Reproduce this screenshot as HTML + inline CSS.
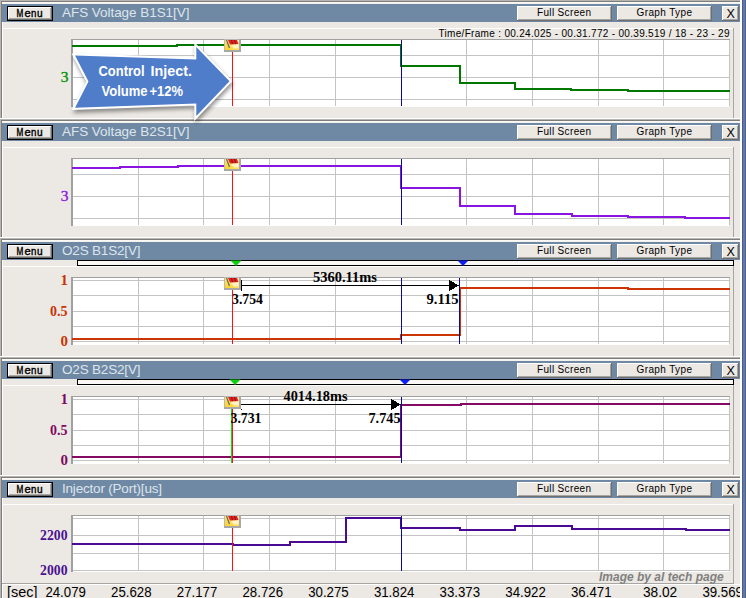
<!DOCTYPE html>
<html><head><meta charset="utf-8"><style>
html,body{margin:0;padding:0;background:#ece9e4;}
svg{display:block;}
</style></head><body>
<svg width="746" height="598" viewBox="0 0 746 598" shape-rendering="crispEdges">
<defs>
<linearGradient id="fg" x1="0" y1="1" x2="1" y2="0"><stop offset="0" stop-color="#ffd21e"/><stop offset="1" stop-color="#fff0b0"/></linearGradient>
<filter id="blur" x="-10%" y="-10%" width="120%" height="120%"><feGaussianBlur stdDeviation="2"/></filter>
</defs>
<rect x="0" y="0" width="746" height="598" fill="#ece9e4"/>
<rect x="0" y="0" width="740" height="1" fill="#b6b5b1"/>
<rect x="1" y="1" width="739" height="1" fill="#7e7d79"/>
<rect x="2" y="2" width="738" height="1" fill="#fbf9f5"/>
<rect x="2" y="3" width="738" height="1" fill="#f4f2ee"/>
<rect x="2" y="4" width="738" height="18" fill="#6f89a5"/>
<rect x="7" y="6" width="46" height="15" fill="#000000"/>
<rect x="8" y="7" width="44" height="13" fill="#6e6e6e"/>
<rect x="8" y="7" width="43" height="12" fill="#ffffff"/>
<rect x="9" y="8" width="42" height="11" fill="#a8a6a2"/>
<rect x="9" y="8" width="41" height="10" fill="#ece9e4"/>
<text x="17" y="16.5" font-family="Liberation Sans" font-size="10" font-weight="normal" fill="#000000" text-anchor="start"></text>
<text x="16.4" y="16.6" font-family="Liberation Sans" font-size="10" font-weight="normal" fill="#000000" text-anchor="start" stroke="#000" stroke-width="0.4" textLength="6.8" lengthAdjust="spacingAndGlyphs">M</text>
<text x="24.4" y="16.6" font-family="Liberation Sans" font-size="10" font-weight="normal" fill="#000000" text-anchor="start" stroke="#000" stroke-width="0.4" textLength="6.2" lengthAdjust="spacingAndGlyphs">e</text>
<text x="31.0" y="16.6" font-family="Liberation Sans" font-size="10" font-weight="normal" fill="#000000" text-anchor="start" stroke="#000" stroke-width="0.4" textLength="5.4" lengthAdjust="spacingAndGlyphs">n</text>
<text x="36.9" y="16.6" font-family="Liberation Sans" font-size="10" font-weight="normal" fill="#000000" text-anchor="start" stroke="#000" stroke-width="0.4" textLength="5.6" lengthAdjust="spacingAndGlyphs">u</text>
<text x="62" y="17" font-family="Liberation Sans" font-size="13.5" font-weight="normal" fill="#dde5ec" text-anchor="start" textLength="127.5" lengthAdjust="spacing">AFS Voltage B1S1[V]</text>
<rect x="517" y="6" width="95" height="15" fill="#6e6e6e"/>
<rect x="517" y="6" width="94" height="14" fill="#ffffff"/>
<rect x="518" y="7" width="93" height="13" fill="#a8a6a2"/>
<rect x="518" y="7" width="92" height="12" fill="#ece9e4"/>
<text x="537" y="15.7" font-family="Liberation Sans" font-size="10" font-weight="normal" fill="#000000" text-anchor="start" textLength="54" lengthAdjust="spacing">Full Screen</text>
<rect x="617" y="6" width="95" height="15" fill="#6e6e6e"/>
<rect x="617" y="6" width="94" height="14" fill="#ffffff"/>
<rect x="618" y="7" width="93" height="13" fill="#a8a6a2"/>
<rect x="618" y="7" width="92" height="12" fill="#ece9e4"/>
<text x="636.5" y="15.7" font-family="Liberation Sans" font-size="10" font-weight="normal" fill="#000000" text-anchor="start" textLength="55.5" lengthAdjust="spacing">Graph Type</text>
<rect x="722" y="6" width="17" height="15" fill="#6e6e6e"/>
<rect x="722" y="6" width="16" height="14" fill="#ffffff"/>
<rect x="723" y="7" width="15" height="13" fill="#a8a6a2"/>
<rect x="723" y="7" width="14" height="12" fill="#ece9e4"/>
<text x="726.5" y="18" font-family="Liberation Sans" font-size="12.5" font-weight="normal" fill="#000000" text-anchor="start">X</text>
<rect x="2" y="28" width="731" height="1" fill="#ffffff"/>
<rect x="733" y="28" width="1" height="90" fill="#a8a6a2"/>
<rect x="0" y="118" width="741" height="1" fill="#ffffff"/>
<rect x="0" y="119" width="740" height="1" fill="#b6b5b1"/>
<rect x="1" y="120" width="739" height="1" fill="#7e7d79"/>
<rect x="2" y="121" width="738" height="1" fill="#fbf9f5"/>
<rect x="2" y="122" width="738" height="1" fill="#f4f2ee"/>
<rect x="2" y="123" width="738" height="18" fill="#6f89a5"/>
<rect x="7" y="125" width="46" height="15" fill="#000000"/>
<rect x="8" y="126" width="44" height="13" fill="#6e6e6e"/>
<rect x="8" y="126" width="43" height="12" fill="#ffffff"/>
<rect x="9" y="127" width="42" height="11" fill="#a8a6a2"/>
<rect x="9" y="127" width="41" height="10" fill="#ece9e4"/>
<text x="17" y="135.5" font-family="Liberation Sans" font-size="10" font-weight="normal" fill="#000000" text-anchor="start"></text>
<text x="16.4" y="135.6" font-family="Liberation Sans" font-size="10" font-weight="normal" fill="#000000" text-anchor="start" stroke="#000" stroke-width="0.4" textLength="6.8" lengthAdjust="spacingAndGlyphs">M</text>
<text x="24.4" y="135.6" font-family="Liberation Sans" font-size="10" font-weight="normal" fill="#000000" text-anchor="start" stroke="#000" stroke-width="0.4" textLength="6.2" lengthAdjust="spacingAndGlyphs">e</text>
<text x="31.0" y="135.6" font-family="Liberation Sans" font-size="10" font-weight="normal" fill="#000000" text-anchor="start" stroke="#000" stroke-width="0.4" textLength="5.4" lengthAdjust="spacingAndGlyphs">n</text>
<text x="36.9" y="135.6" font-family="Liberation Sans" font-size="10" font-weight="normal" fill="#000000" text-anchor="start" stroke="#000" stroke-width="0.4" textLength="5.6" lengthAdjust="spacingAndGlyphs">u</text>
<text x="62" y="136" font-family="Liberation Sans" font-size="13.5" font-weight="normal" fill="#dde5ec" text-anchor="start" textLength="127.5" lengthAdjust="spacing">AFS Voltage B2S1[V]</text>
<rect x="517" y="125" width="95" height="15" fill="#6e6e6e"/>
<rect x="517" y="125" width="94" height="14" fill="#ffffff"/>
<rect x="518" y="126" width="93" height="13" fill="#a8a6a2"/>
<rect x="518" y="126" width="92" height="12" fill="#ece9e4"/>
<text x="537" y="134.7" font-family="Liberation Sans" font-size="10" font-weight="normal" fill="#000000" text-anchor="start" textLength="54" lengthAdjust="spacing">Full Screen</text>
<rect x="617" y="125" width="95" height="15" fill="#6e6e6e"/>
<rect x="617" y="125" width="94" height="14" fill="#ffffff"/>
<rect x="618" y="126" width="93" height="13" fill="#a8a6a2"/>
<rect x="618" y="126" width="92" height="12" fill="#ece9e4"/>
<text x="636.5" y="134.7" font-family="Liberation Sans" font-size="10" font-weight="normal" fill="#000000" text-anchor="start" textLength="55.5" lengthAdjust="spacing">Graph Type</text>
<rect x="722" y="125" width="17" height="15" fill="#6e6e6e"/>
<rect x="722" y="125" width="16" height="14" fill="#ffffff"/>
<rect x="723" y="126" width="15" height="13" fill="#a8a6a2"/>
<rect x="723" y="126" width="14" height="12" fill="#ece9e4"/>
<text x="726.5" y="137" font-family="Liberation Sans" font-size="12.5" font-weight="normal" fill="#000000" text-anchor="start">X</text>
<rect x="2" y="147" width="731" height="1" fill="#ffffff"/>
<rect x="733" y="147" width="1" height="90" fill="#a8a6a2"/>
<rect x="0" y="237" width="741" height="1" fill="#ffffff"/>
<rect x="0" y="238" width="740" height="1" fill="#b6b5b1"/>
<rect x="1" y="239" width="739" height="1" fill="#7e7d79"/>
<rect x="2" y="240" width="738" height="1" fill="#fbf9f5"/>
<rect x="2" y="241" width="738" height="1" fill="#f4f2ee"/>
<rect x="2" y="242" width="738" height="18" fill="#6f89a5"/>
<rect x="7" y="244" width="46" height="15" fill="#000000"/>
<rect x="8" y="245" width="44" height="13" fill="#6e6e6e"/>
<rect x="8" y="245" width="43" height="12" fill="#ffffff"/>
<rect x="9" y="246" width="42" height="11" fill="#a8a6a2"/>
<rect x="9" y="246" width="41" height="10" fill="#ece9e4"/>
<text x="17" y="254.5" font-family="Liberation Sans" font-size="10" font-weight="normal" fill="#000000" text-anchor="start"></text>
<text x="16.4" y="254.6" font-family="Liberation Sans" font-size="10" font-weight="normal" fill="#000000" text-anchor="start" stroke="#000" stroke-width="0.4" textLength="6.8" lengthAdjust="spacingAndGlyphs">M</text>
<text x="24.4" y="254.6" font-family="Liberation Sans" font-size="10" font-weight="normal" fill="#000000" text-anchor="start" stroke="#000" stroke-width="0.4" textLength="6.2" lengthAdjust="spacingAndGlyphs">e</text>
<text x="31.0" y="254.6" font-family="Liberation Sans" font-size="10" font-weight="normal" fill="#000000" text-anchor="start" stroke="#000" stroke-width="0.4" textLength="5.4" lengthAdjust="spacingAndGlyphs">n</text>
<text x="36.9" y="254.6" font-family="Liberation Sans" font-size="10" font-weight="normal" fill="#000000" text-anchor="start" stroke="#000" stroke-width="0.4" textLength="5.6" lengthAdjust="spacingAndGlyphs">u</text>
<text x="62" y="255" font-family="Liberation Sans" font-size="13.5" font-weight="normal" fill="#dde5ec" text-anchor="start" textLength="78.5" lengthAdjust="spacing">O2S B1S2[V]</text>
<rect x="517" y="244" width="95" height="15" fill="#6e6e6e"/>
<rect x="517" y="244" width="94" height="14" fill="#ffffff"/>
<rect x="518" y="245" width="93" height="13" fill="#a8a6a2"/>
<rect x="518" y="245" width="92" height="12" fill="#ece9e4"/>
<text x="537" y="253.7" font-family="Liberation Sans" font-size="10" font-weight="normal" fill="#000000" text-anchor="start" textLength="54" lengthAdjust="spacing">Full Screen</text>
<rect x="617" y="244" width="95" height="15" fill="#6e6e6e"/>
<rect x="617" y="244" width="94" height="14" fill="#ffffff"/>
<rect x="618" y="245" width="93" height="13" fill="#a8a6a2"/>
<rect x="618" y="245" width="92" height="12" fill="#ece9e4"/>
<text x="636.5" y="253.7" font-family="Liberation Sans" font-size="10" font-weight="normal" fill="#000000" text-anchor="start" textLength="55.5" lengthAdjust="spacing">Graph Type</text>
<rect x="722" y="244" width="17" height="15" fill="#6e6e6e"/>
<rect x="722" y="244" width="16" height="14" fill="#ffffff"/>
<rect x="723" y="245" width="15" height="13" fill="#a8a6a2"/>
<rect x="723" y="245" width="14" height="12" fill="#ece9e4"/>
<text x="726.5" y="256" font-family="Liberation Sans" font-size="12.5" font-weight="normal" fill="#000000" text-anchor="start">X</text>
<rect x="2" y="266" width="731" height="1" fill="#ffffff"/>
<rect x="733" y="266" width="1" height="90" fill="#a8a6a2"/>
<rect x="0" y="356" width="741" height="1" fill="#ffffff"/>
<rect x="0" y="357" width="740" height="1" fill="#b6b5b1"/>
<rect x="1" y="358" width="739" height="1" fill="#7e7d79"/>
<rect x="2" y="359" width="738" height="1" fill="#fbf9f5"/>
<rect x="2" y="360" width="738" height="1" fill="#f4f2ee"/>
<rect x="2" y="361" width="738" height="18" fill="#6f89a5"/>
<rect x="7" y="363" width="46" height="15" fill="#000000"/>
<rect x="8" y="364" width="44" height="13" fill="#6e6e6e"/>
<rect x="8" y="364" width="43" height="12" fill="#ffffff"/>
<rect x="9" y="365" width="42" height="11" fill="#a8a6a2"/>
<rect x="9" y="365" width="41" height="10" fill="#ece9e4"/>
<text x="17" y="373.5" font-family="Liberation Sans" font-size="10" font-weight="normal" fill="#000000" text-anchor="start"></text>
<text x="16.4" y="373.6" font-family="Liberation Sans" font-size="10" font-weight="normal" fill="#000000" text-anchor="start" stroke="#000" stroke-width="0.4" textLength="6.8" lengthAdjust="spacingAndGlyphs">M</text>
<text x="24.4" y="373.6" font-family="Liberation Sans" font-size="10" font-weight="normal" fill="#000000" text-anchor="start" stroke="#000" stroke-width="0.4" textLength="6.2" lengthAdjust="spacingAndGlyphs">e</text>
<text x="31.0" y="373.6" font-family="Liberation Sans" font-size="10" font-weight="normal" fill="#000000" text-anchor="start" stroke="#000" stroke-width="0.4" textLength="5.4" lengthAdjust="spacingAndGlyphs">n</text>
<text x="36.9" y="373.6" font-family="Liberation Sans" font-size="10" font-weight="normal" fill="#000000" text-anchor="start" stroke="#000" stroke-width="0.4" textLength="5.6" lengthAdjust="spacingAndGlyphs">u</text>
<text x="62" y="374" font-family="Liberation Sans" font-size="13.5" font-weight="normal" fill="#dde5ec" text-anchor="start" textLength="78.5" lengthAdjust="spacing">O2S B2S2[V]</text>
<rect x="517" y="363" width="95" height="15" fill="#6e6e6e"/>
<rect x="517" y="363" width="94" height="14" fill="#ffffff"/>
<rect x="518" y="364" width="93" height="13" fill="#a8a6a2"/>
<rect x="518" y="364" width="92" height="12" fill="#ece9e4"/>
<text x="537" y="372.7" font-family="Liberation Sans" font-size="10" font-weight="normal" fill="#000000" text-anchor="start" textLength="54" lengthAdjust="spacing">Full Screen</text>
<rect x="617" y="363" width="95" height="15" fill="#6e6e6e"/>
<rect x="617" y="363" width="94" height="14" fill="#ffffff"/>
<rect x="618" y="364" width="93" height="13" fill="#a8a6a2"/>
<rect x="618" y="364" width="92" height="12" fill="#ece9e4"/>
<text x="636.5" y="372.7" font-family="Liberation Sans" font-size="10" font-weight="normal" fill="#000000" text-anchor="start" textLength="55.5" lengthAdjust="spacing">Graph Type</text>
<rect x="722" y="363" width="17" height="15" fill="#6e6e6e"/>
<rect x="722" y="363" width="16" height="14" fill="#ffffff"/>
<rect x="723" y="364" width="15" height="13" fill="#a8a6a2"/>
<rect x="723" y="364" width="14" height="12" fill="#ece9e4"/>
<text x="726.5" y="375" font-family="Liberation Sans" font-size="12.5" font-weight="normal" fill="#000000" text-anchor="start">X</text>
<rect x="2" y="385" width="731" height="1" fill="#ffffff"/>
<rect x="733" y="385" width="1" height="90" fill="#a8a6a2"/>
<rect x="0" y="475" width="741" height="1" fill="#ffffff"/>
<rect x="0" y="476" width="740" height="1" fill="#b6b5b1"/>
<rect x="1" y="477" width="739" height="1" fill="#7e7d79"/>
<rect x="2" y="478" width="738" height="1" fill="#fbf9f5"/>
<rect x="2" y="479" width="738" height="1" fill="#f4f2ee"/>
<rect x="2" y="480" width="738" height="18" fill="#6f89a5"/>
<rect x="7" y="482" width="46" height="15" fill="#000000"/>
<rect x="8" y="483" width="44" height="13" fill="#6e6e6e"/>
<rect x="8" y="483" width="43" height="12" fill="#ffffff"/>
<rect x="9" y="484" width="42" height="11" fill="#a8a6a2"/>
<rect x="9" y="484" width="41" height="10" fill="#ece9e4"/>
<text x="17" y="492.5" font-family="Liberation Sans" font-size="10" font-weight="normal" fill="#000000" text-anchor="start"></text>
<text x="16.4" y="492.6" font-family="Liberation Sans" font-size="10" font-weight="normal" fill="#000000" text-anchor="start" stroke="#000" stroke-width="0.4" textLength="6.8" lengthAdjust="spacingAndGlyphs">M</text>
<text x="24.4" y="492.6" font-family="Liberation Sans" font-size="10" font-weight="normal" fill="#000000" text-anchor="start" stroke="#000" stroke-width="0.4" textLength="6.2" lengthAdjust="spacingAndGlyphs">e</text>
<text x="31.0" y="492.6" font-family="Liberation Sans" font-size="10" font-weight="normal" fill="#000000" text-anchor="start" stroke="#000" stroke-width="0.4" textLength="5.4" lengthAdjust="spacingAndGlyphs">n</text>
<text x="36.9" y="492.6" font-family="Liberation Sans" font-size="10" font-weight="normal" fill="#000000" text-anchor="start" stroke="#000" stroke-width="0.4" textLength="5.6" lengthAdjust="spacingAndGlyphs">u</text>
<text x="62" y="493" font-family="Liberation Sans" font-size="13.5" font-weight="normal" fill="#dde5ec" text-anchor="start" textLength="100" lengthAdjust="spacing">Injector (Port)[us]</text>
<rect x="517" y="482" width="95" height="15" fill="#6e6e6e"/>
<rect x="517" y="482" width="94" height="14" fill="#ffffff"/>
<rect x="518" y="483" width="93" height="13" fill="#a8a6a2"/>
<rect x="518" y="483" width="92" height="12" fill="#ece9e4"/>
<text x="537" y="491.7" font-family="Liberation Sans" font-size="10" font-weight="normal" fill="#000000" text-anchor="start" textLength="54" lengthAdjust="spacing">Full Screen</text>
<rect x="617" y="482" width="95" height="15" fill="#6e6e6e"/>
<rect x="617" y="482" width="94" height="14" fill="#ffffff"/>
<rect x="618" y="483" width="93" height="13" fill="#a8a6a2"/>
<rect x="618" y="483" width="92" height="12" fill="#ece9e4"/>
<text x="636.5" y="491.7" font-family="Liberation Sans" font-size="10" font-weight="normal" fill="#000000" text-anchor="start" textLength="55.5" lengthAdjust="spacing">Graph Type</text>
<rect x="722" y="482" width="17" height="15" fill="#6e6e6e"/>
<rect x="722" y="482" width="16" height="14" fill="#ffffff"/>
<rect x="723" y="483" width="15" height="13" fill="#a8a6a2"/>
<rect x="723" y="483" width="14" height="12" fill="#ece9e4"/>
<text x="726.5" y="494" font-family="Liberation Sans" font-size="12.5" font-weight="normal" fill="#000000" text-anchor="start">X</text>
<rect x="2" y="504" width="731" height="1" fill="#ffffff"/>
<rect x="733" y="504" width="1" height="79" fill="#a8a6a2"/>
<rect x="0" y="0" width="1" height="118" fill="#b6b5b1"/>
<rect x="1" y="1" width="1" height="117" fill="#7e7d79"/>
<rect x="2" y="22" width="1" height="96" fill="#ffffff"/>
<rect x="0" y="119" width="1" height="118" fill="#b6b5b1"/>
<rect x="1" y="120" width="1" height="117" fill="#7e7d79"/>
<rect x="2" y="141" width="1" height="96" fill="#ffffff"/>
<rect x="0" y="238" width="1" height="118" fill="#b6b5b1"/>
<rect x="1" y="239" width="1" height="117" fill="#7e7d79"/>
<rect x="2" y="260" width="1" height="96" fill="#ffffff"/>
<rect x="0" y="357" width="1" height="118" fill="#b6b5b1"/>
<rect x="1" y="358" width="1" height="117" fill="#7e7d79"/>
<rect x="2" y="379" width="1" height="96" fill="#ffffff"/>
<rect x="0" y="476" width="1" height="122" fill="#b6b5b1"/>
<rect x="1" y="477" width="1" height="121" fill="#7e7d79"/>
<rect x="2" y="498" width="1" height="100" fill="#ffffff"/>
<rect x="71" y="39" width="659" height="1" fill="#a0a0a0"/>
<rect x="71" y="39" width="2" height="68" fill="#a0a0a0"/>
<rect x="73" y="40" width="656" height="67" fill="#ffffff"/>
<rect x="73" y="55" width="657" height="1" fill="#c4c4c4"/>
<rect x="73" y="77" width="657" height="1" fill="#c4c4c4"/>
<rect x="73" y="99" width="657" height="1" fill="#c4c4c4"/>
<rect x="138" y="40" width="1" height="66" fill="#c4c4c4"/>
<rect x="203" y="40" width="1" height="66" fill="#c4c4c4"/>
<rect x="269" y="40" width="1" height="66" fill="#c4c4c4"/>
<rect x="335" y="40" width="1" height="66" fill="#c4c4c4"/>
<rect x="401" y="40" width="1" height="66" fill="#c4c4c4"/>
<rect x="466" y="40" width="1" height="66" fill="#c4c4c4"/>
<rect x="532" y="40" width="1" height="66" fill="#c4c4c4"/>
<rect x="598" y="40" width="1" height="66" fill="#c4c4c4"/>
<rect x="663" y="40" width="1" height="66" fill="#c4c4c4"/>
<rect x="729" y="40" width="1" height="66" fill="#c4c4c4"/>
<rect x="71" y="158" width="659" height="1" fill="#a0a0a0"/>
<rect x="71" y="158" width="2" height="68" fill="#a0a0a0"/>
<rect x="73" y="159" width="656" height="67" fill="#ffffff"/>
<rect x="73" y="174" width="657" height="1" fill="#c4c4c4"/>
<rect x="73" y="196" width="657" height="1" fill="#c4c4c4"/>
<rect x="73" y="218" width="657" height="1" fill="#c4c4c4"/>
<rect x="138" y="159" width="1" height="66" fill="#c4c4c4"/>
<rect x="203" y="159" width="1" height="66" fill="#c4c4c4"/>
<rect x="269" y="159" width="1" height="66" fill="#c4c4c4"/>
<rect x="335" y="159" width="1" height="66" fill="#c4c4c4"/>
<rect x="401" y="159" width="1" height="66" fill="#c4c4c4"/>
<rect x="466" y="159" width="1" height="66" fill="#c4c4c4"/>
<rect x="532" y="159" width="1" height="66" fill="#c4c4c4"/>
<rect x="598" y="159" width="1" height="66" fill="#c4c4c4"/>
<rect x="663" y="159" width="1" height="66" fill="#c4c4c4"/>
<rect x="729" y="159" width="1" height="66" fill="#c4c4c4"/>
<rect x="71" y="277" width="659" height="1" fill="#a0a0a0"/>
<rect x="71" y="277" width="2" height="68" fill="#a0a0a0"/>
<rect x="73" y="278" width="656" height="67" fill="#ffffff"/>
<rect x="73" y="280" width="657" height="1" fill="#c4c4c4"/>
<rect x="73" y="295" width="657" height="1" fill="#c4c4c4"/>
<rect x="73" y="311" width="657" height="1" fill="#c4c4c4"/>
<rect x="73" y="326" width="657" height="1" fill="#c4c4c4"/>
<rect x="73" y="341" width="657" height="1" fill="#c4c4c4"/>
<rect x="138" y="278" width="1" height="66" fill="#c4c4c4"/>
<rect x="203" y="278" width="1" height="66" fill="#c4c4c4"/>
<rect x="269" y="278" width="1" height="66" fill="#c4c4c4"/>
<rect x="335" y="278" width="1" height="66" fill="#c4c4c4"/>
<rect x="401" y="278" width="1" height="66" fill="#c4c4c4"/>
<rect x="466" y="278" width="1" height="66" fill="#c4c4c4"/>
<rect x="532" y="278" width="1" height="66" fill="#c4c4c4"/>
<rect x="598" y="278" width="1" height="66" fill="#c4c4c4"/>
<rect x="663" y="278" width="1" height="66" fill="#c4c4c4"/>
<rect x="729" y="278" width="1" height="66" fill="#c4c4c4"/>
<rect x="71" y="396" width="659" height="1" fill="#a0a0a0"/>
<rect x="71" y="396" width="2" height="68" fill="#a0a0a0"/>
<rect x="73" y="397" width="656" height="67" fill="#ffffff"/>
<rect x="73" y="399" width="657" height="1" fill="#c4c4c4"/>
<rect x="73" y="414" width="657" height="1" fill="#c4c4c4"/>
<rect x="73" y="430" width="657" height="1" fill="#c4c4c4"/>
<rect x="73" y="445" width="657" height="1" fill="#c4c4c4"/>
<rect x="73" y="460" width="657" height="1" fill="#c4c4c4"/>
<rect x="138" y="397" width="1" height="66" fill="#c4c4c4"/>
<rect x="203" y="397" width="1" height="66" fill="#c4c4c4"/>
<rect x="269" y="397" width="1" height="66" fill="#c4c4c4"/>
<rect x="335" y="397" width="1" height="66" fill="#c4c4c4"/>
<rect x="401" y="397" width="1" height="66" fill="#c4c4c4"/>
<rect x="466" y="397" width="1" height="66" fill="#c4c4c4"/>
<rect x="532" y="397" width="1" height="66" fill="#c4c4c4"/>
<rect x="598" y="397" width="1" height="66" fill="#c4c4c4"/>
<rect x="663" y="397" width="1" height="66" fill="#c4c4c4"/>
<rect x="729" y="397" width="1" height="66" fill="#c4c4c4"/>
<rect x="71" y="515" width="659" height="1" fill="#a0a0a0"/>
<rect x="71" y="515" width="2" height="57" fill="#a0a0a0"/>
<rect x="73" y="516" width="656" height="56" fill="#ffffff"/>
<rect x="73" y="518" width="657" height="1" fill="#c4c4c4"/>
<rect x="73" y="535" width="657" height="1" fill="#c4c4c4"/>
<rect x="73" y="553" width="657" height="1" fill="#c4c4c4"/>
<rect x="73" y="570" width="657" height="1" fill="#c4c4c4"/>
<rect x="138" y="516" width="1" height="55" fill="#c4c4c4"/>
<rect x="203" y="516" width="1" height="55" fill="#c4c4c4"/>
<rect x="269" y="516" width="1" height="55" fill="#c4c4c4"/>
<rect x="335" y="516" width="1" height="55" fill="#c4c4c4"/>
<rect x="401" y="516" width="1" height="55" fill="#c4c4c4"/>
<rect x="466" y="516" width="1" height="55" fill="#c4c4c4"/>
<rect x="532" y="516" width="1" height="55" fill="#c4c4c4"/>
<rect x="598" y="516" width="1" height="55" fill="#c4c4c4"/>
<rect x="663" y="516" width="1" height="55" fill="#c4c4c4"/>
<rect x="729" y="516" width="1" height="55" fill="#c4c4c4"/>
<rect x="2" y="583" width="732" height="1" fill="#a8a6a2"/>
<rect x="2" y="584" width="738" height="1" fill="#ffffff"/>
<rect x="72" y="45" width="106" height="2" fill="#007800"/>
<rect x="176" y="44" width="2" height="3" fill="#007800"/>
<rect x="176" y="44" width="226" height="2" fill="#007800"/>
<rect x="400" y="44" width="2" height="23" fill="#007800"/>
<rect x="400" y="65" width="61" height="2" fill="#007800"/>
<rect x="459" y="65" width="2" height="19" fill="#007800"/>
<rect x="459" y="82" width="57" height="2" fill="#007800"/>
<rect x="514" y="82" width="2" height="8" fill="#007800"/>
<rect x="514" y="88" width="58" height="2" fill="#007800"/>
<rect x="570" y="88" width="2" height="3" fill="#007800"/>
<rect x="570" y="89" width="59" height="2" fill="#007800"/>
<rect x="627" y="89" width="2" height="3" fill="#007800"/>
<rect x="627" y="90" width="103" height="2" fill="#007800"/>
<rect x="72" y="167" width="49" height="2" fill="#8a14e0"/>
<rect x="119" y="166" width="2" height="3" fill="#8a14e0"/>
<rect x="119" y="166" width="60" height="2" fill="#8a14e0"/>
<rect x="177" y="165" width="2" height="3" fill="#8a14e0"/>
<rect x="177" y="165" width="225" height="2" fill="#8a14e0"/>
<rect x="400" y="165" width="2" height="24" fill="#8a14e0"/>
<rect x="400" y="187" width="61" height="2" fill="#8a14e0"/>
<rect x="459" y="187" width="2" height="20" fill="#8a14e0"/>
<rect x="459" y="205" width="57" height="2" fill="#8a14e0"/>
<rect x="514" y="205" width="2" height="10" fill="#8a14e0"/>
<rect x="514" y="213" width="59" height="2" fill="#8a14e0"/>
<rect x="571" y="213" width="2" height="4" fill="#8a14e0"/>
<rect x="571" y="215" width="58" height="2" fill="#8a14e0"/>
<rect x="627" y="215" width="2" height="3" fill="#8a14e0"/>
<rect x="627" y="216" width="59" height="2" fill="#8a14e0"/>
<rect x="684" y="216" width="2" height="3" fill="#8a14e0"/>
<rect x="684" y="217" width="46" height="2" fill="#8a14e0"/>
<rect x="72" y="338" width="330" height="2" fill="#cc3404"/>
<rect x="400" y="334" width="2" height="6" fill="#cc3404"/>
<rect x="400" y="334" width="61" height="2" fill="#cc3404"/>
<rect x="459" y="287" width="2" height="49" fill="#cc3404"/>
<rect x="459" y="287" width="170" height="2" fill="#cc3404"/>
<rect x="627" y="287" width="2" height="3" fill="#cc3404"/>
<rect x="627" y="288" width="103" height="2" fill="#cc3404"/>
<rect x="72" y="456" width="330" height="2" fill="#840a64"/>
<rect x="400" y="404" width="2" height="54" fill="#840a64"/>
<rect x="400" y="404" width="62" height="2" fill="#840a64"/>
<rect x="460" y="403" width="2" height="3" fill="#840a64"/>
<rect x="460" y="403" width="270" height="2" fill="#840a64"/>
<rect x="72" y="543" width="162" height="2" fill="#4a0a94"/>
<rect x="232" y="543" width="2" height="3" fill="#4a0a94"/>
<rect x="232" y="544" width="59" height="2" fill="#4a0a94"/>
<rect x="289" y="541" width="2" height="5" fill="#4a0a94"/>
<rect x="289" y="541" width="58" height="2" fill="#4a0a94"/>
<rect x="345" y="517" width="2" height="26" fill="#4a0a94"/>
<rect x="345" y="517" width="57" height="2" fill="#4a0a94"/>
<rect x="400" y="517" width="2" height="12" fill="#4a0a94"/>
<rect x="400" y="527" width="61" height="2" fill="#4a0a94"/>
<rect x="459" y="527" width="2" height="4" fill="#4a0a94"/>
<rect x="459" y="529" width="57" height="2" fill="#4a0a94"/>
<rect x="514" y="525" width="2" height="6" fill="#4a0a94"/>
<rect x="514" y="525" width="59" height="2" fill="#4a0a94"/>
<rect x="571" y="525" width="2" height="5" fill="#4a0a94"/>
<rect x="571" y="528" width="116" height="2" fill="#4a0a94"/>
<rect x="685" y="528" width="2" height="3" fill="#4a0a94"/>
<rect x="685" y="529" width="45" height="2" fill="#4a0a94"/>
<rect x="232" y="52" width="1" height="54" fill="#ff1010"/>
<rect x="401" y="40" width="1" height="66" fill="#0a0a90"/>
<rect x="232" y="171" width="1" height="54" fill="#ff1010"/>
<rect x="401" y="159" width="1" height="66" fill="#0a0a90"/>
<rect x="232" y="290" width="1" height="54" fill="#ff1010"/>
<rect x="401" y="278" width="1" height="66" fill="#0a0a90"/>
<rect x="232" y="409" width="1" height="54" fill="#ff1010"/>
<rect x="401" y="397" width="1" height="66" fill="#0a0a90"/>
<rect x="232" y="528" width="1" height="43" fill="#ff1010"/>
<rect x="401" y="516" width="1" height="55" fill="#0a0a90"/>
<rect x="459" y="278" width="1" height="66" fill="#0a0a90"/>
<rect x="231" y="409" width="1" height="54" fill="#10e010"/>
<rect x="224" y="39" width="17" height="13" fill="#b8b8b8"/>
<rect x="239" y="39" width="2" height="13" fill="#a8a8a8"/>
<rect x="224" y="50" width="17" height="2" fill="#a8a8a8"/>
<rect x="225" y="40" width="14" height="10" fill="url(#fg)"/>
<g shape-rendering="geometricPrecision">
<polygon points="231,45 238.5,44.5 238.5,48 234,48.5" fill="#fff6dc" opacity="0.8"/>
<polygon points="228,40 237,40 238.5,44 230,44.5" fill="#e02424"/>
<line x1="231.5" y1="40" x2="232.5" y2="44" stroke="#901010" stroke-width="1"/>
<line x1="234.5" y1="40" x2="235.5" y2="44" stroke="#901010" stroke-width="1"/>
<line x1="226.5" y1="40" x2="229.5" y2="48" stroke="#6a6a6a" stroke-width="1.3"/>
</g>
<rect x="224" y="158" width="17" height="13" fill="#b8b8b8"/>
<rect x="239" y="158" width="2" height="13" fill="#a8a8a8"/>
<rect x="224" y="169" width="17" height="2" fill="#a8a8a8"/>
<rect x="225" y="159" width="14" height="10" fill="url(#fg)"/>
<g shape-rendering="geometricPrecision">
<polygon points="231,164 238.5,163.5 238.5,167 234,167.5" fill="#fff6dc" opacity="0.8"/>
<polygon points="228,159 237,159 238.5,163 230,163.5" fill="#e02424"/>
<line x1="231.5" y1="159" x2="232.5" y2="163" stroke="#901010" stroke-width="1"/>
<line x1="234.5" y1="159" x2="235.5" y2="163" stroke="#901010" stroke-width="1"/>
<line x1="226.5" y1="159" x2="229.5" y2="167" stroke="#6a6a6a" stroke-width="1.3"/>
</g>
<rect x="224" y="277" width="17" height="13" fill="#b8b8b8"/>
<rect x="239" y="277" width="2" height="13" fill="#a8a8a8"/>
<rect x="224" y="288" width="17" height="2" fill="#a8a8a8"/>
<rect x="225" y="278" width="14" height="10" fill="url(#fg)"/>
<g shape-rendering="geometricPrecision">
<polygon points="231,283 238.5,282.5 238.5,286 234,286.5" fill="#fff6dc" opacity="0.8"/>
<polygon points="228,278 237,278 238.5,282 230,282.5" fill="#e02424"/>
<line x1="231.5" y1="278" x2="232.5" y2="282" stroke="#901010" stroke-width="1"/>
<line x1="234.5" y1="278" x2="235.5" y2="282" stroke="#901010" stroke-width="1"/>
<line x1="226.5" y1="278" x2="229.5" y2="286" stroke="#6a6a6a" stroke-width="1.3"/>
</g>
<rect x="224" y="396" width="17" height="13" fill="#b8b8b8"/>
<rect x="239" y="396" width="2" height="13" fill="#a8a8a8"/>
<rect x="224" y="407" width="17" height="2" fill="#a8a8a8"/>
<rect x="225" y="397" width="14" height="10" fill="url(#fg)"/>
<g shape-rendering="geometricPrecision">
<polygon points="231,402 238.5,401.5 238.5,405 234,405.5" fill="#fff6dc" opacity="0.8"/>
<polygon points="228,397 237,397 238.5,401 230,401.5" fill="#e02424"/>
<line x1="231.5" y1="397" x2="232.5" y2="401" stroke="#901010" stroke-width="1"/>
<line x1="234.5" y1="397" x2="235.5" y2="401" stroke="#901010" stroke-width="1"/>
<line x1="226.5" y1="397" x2="229.5" y2="405" stroke="#6a6a6a" stroke-width="1.3"/>
</g>
<rect x="224" y="515" width="17" height="13" fill="#b8b8b8"/>
<rect x="239" y="515" width="2" height="13" fill="#a8a8a8"/>
<rect x="224" y="526" width="17" height="2" fill="#a8a8a8"/>
<rect x="225" y="516" width="14" height="10" fill="url(#fg)"/>
<g shape-rendering="geometricPrecision">
<polygon points="231,521 238.5,520.5 238.5,524 234,524.5" fill="#fff6dc" opacity="0.8"/>
<polygon points="228,516 237,516 238.5,520 230,520.5" fill="#e02424"/>
<line x1="231.5" y1="516" x2="232.5" y2="520" stroke="#901010" stroke-width="1"/>
<line x1="234.5" y1="516" x2="235.5" y2="520" stroke="#901010" stroke-width="1"/>
<line x1="226.5" y1="516" x2="229.5" y2="524" stroke="#6a6a6a" stroke-width="1.3"/>
</g>
<text x="60.8" y="82" font-family="Liberation Serif" font-size="15.5" font-weight="normal" fill="#009000" text-anchor="start" stroke="#009000" stroke-width="0.35">3</text>
<text x="60.8" y="201" font-family="Liberation Serif" font-size="15.5" font-weight="normal" fill="#8a14e0" text-anchor="start" stroke="#8a14e0" stroke-width="0.35">3</text>
<text x="68" y="285" font-family="Liberation Serif" font-size="15" font-weight="bold" fill="#c83404" text-anchor="end">1</text>
<text x="50" y="316" font-family="Liberation Serif" font-size="15" font-weight="bold" fill="#c83404" text-anchor="start" textLength="17.5" lengthAdjust="spacingAndGlyphs">0.5</text>
<text x="68" y="346" font-family="Liberation Serif" font-size="15" font-weight="bold" fill="#c83404" text-anchor="end">0</text>
<text x="68" y="404" font-family="Liberation Serif" font-size="15" font-weight="bold" fill="#800a62" text-anchor="end">1</text>
<text x="50" y="435" font-family="Liberation Serif" font-size="15" font-weight="bold" fill="#800a62" text-anchor="start" textLength="17.5" lengthAdjust="spacingAndGlyphs">0.5</text>
<text x="68" y="465" font-family="Liberation Serif" font-size="15" font-weight="bold" fill="#800a62" text-anchor="end">0</text>
<text x="40" y="540" font-family="Liberation Serif" font-size="15" font-weight="bold" fill="#4a1090" text-anchor="start" textLength="27.5" lengthAdjust="spacingAndGlyphs">2200</text>
<text x="40" y="575" font-family="Liberation Serif" font-size="15" font-weight="bold" fill="#4a1090" text-anchor="start" textLength="27.5" lengthAdjust="spacingAndGlyphs">2000</text>
<rect x="77" y="260" width="657" height="6" fill="#000000"/>
<rect x="78" y="261" width="655" height="4" fill="#faf8f4"/>
<polygon points="230.5,260.5 241.5,260.5 236,266" fill="#10d010" shape-rendering="geometricPrecision"/>
<polygon points="457.5,260.5 468.5,260.5 463,266" fill="#1020f0" shape-rendering="geometricPrecision"/>
<rect x="77" y="379" width="657" height="6" fill="#000000"/>
<rect x="78" y="380" width="655" height="4" fill="#faf8f4"/>
<polygon points="229.5,379.5 240.5,379.5 235,385" fill="#10d010" shape-rendering="geometricPrecision"/>
<polygon points="399.5,379.5 410.5,379.5 405,385" fill="#1020f0" shape-rendering="geometricPrecision"/>
<rect x="241" y="280" width="1" height="11" fill="#000000"/>
<rect x="241" y="285" width="209" height="1" fill="#000000"/>
<polygon points="449,280 459,285.5 449,291" fill="#000000"/>
<text x="313" y="282" font-family="Liberation Serif" font-size="15" font-weight="bold" fill="#000000" text-anchor="start" textLength="64" lengthAdjust="spacingAndGlyphs">5360.11ms</text>
<text x="232" y="304" font-family="Liberation Serif" font-size="15.5" font-weight="bold" fill="#000000" text-anchor="start" textLength="31" lengthAdjust="spacingAndGlyphs">3.754</text>
<text x="426.5" y="304" font-family="Liberation Serif" font-size="15.5" font-weight="bold" fill="#000000" text-anchor="start" textLength="32" lengthAdjust="spacingAndGlyphs">9.115</text>
<rect x="241" y="409" width="1" height="1" fill="#000000"/>
<rect x="241" y="404" width="151" height="1" fill="#000000"/>
<polygon points="391,399 401,404.5 391,410" fill="#000000"/>
<text x="283.5" y="401" font-family="Liberation Serif" font-size="15" font-weight="bold" fill="#000000" text-anchor="start" textLength="64" lengthAdjust="spacingAndGlyphs">4014.18ms</text>
<text x="230.5" y="423" font-family="Liberation Serif" font-size="15.5" font-weight="bold" fill="#000000" text-anchor="start" textLength="31" lengthAdjust="spacingAndGlyphs">3.731</text>
<text x="368.5" y="423" font-family="Liberation Serif" font-size="15.5" font-weight="bold" fill="#000000" text-anchor="start" textLength="32" lengthAdjust="spacingAndGlyphs">7.745</text>
<text x="438.5" y="37" font-family="Liberation Sans" font-size="10" font-weight="normal" fill="#000000" text-anchor="start" textLength="291" lengthAdjust="spacing">Time/Frame : 00.24.025 - 00.31.772 - 00.39.519 / 18 - 23 - 29</text>
<text x="7" y="597" font-family="Liberation Sans" font-size="14" font-weight="normal" fill="#000000" text-anchor="start" textLength="30.5" lengthAdjust="spacingAndGlyphs">[sec]</text>
<text x="45.400000000000006" y="597" font-family="Liberation Sans" font-size="14" font-weight="normal" fill="#000000" text-anchor="start" textLength="40.5" lengthAdjust="spacingAndGlyphs">24.079</text>
<text x="111.10000000000001" y="597" font-family="Liberation Sans" font-size="14" font-weight="normal" fill="#000000" text-anchor="start" textLength="40.5" lengthAdjust="spacingAndGlyphs">25.628</text>
<text x="176.8" y="597" font-family="Liberation Sans" font-size="14" font-weight="normal" fill="#000000" text-anchor="start" textLength="40.5" lengthAdjust="spacingAndGlyphs">27.177</text>
<text x="242.5" y="597" font-family="Liberation Sans" font-size="14" font-weight="normal" fill="#000000" text-anchor="start" textLength="40.5" lengthAdjust="spacingAndGlyphs">28.726</text>
<text x="308.2" y="597" font-family="Liberation Sans" font-size="14" font-weight="normal" fill="#000000" text-anchor="start" textLength="40.5" lengthAdjust="spacingAndGlyphs">30.275</text>
<text x="373.9" y="597" font-family="Liberation Sans" font-size="14" font-weight="normal" fill="#000000" text-anchor="start" textLength="40.5" lengthAdjust="spacingAndGlyphs">31.824</text>
<text x="439.6" y="597" font-family="Liberation Sans" font-size="14" font-weight="normal" fill="#000000" text-anchor="start" textLength="40.5" lengthAdjust="spacingAndGlyphs">33.373</text>
<text x="505.3" y="597" font-family="Liberation Sans" font-size="14" font-weight="normal" fill="#000000" text-anchor="start" textLength="40.5" lengthAdjust="spacingAndGlyphs">34.922</text>
<text x="571.0000000000001" y="597" font-family="Liberation Sans" font-size="14" font-weight="normal" fill="#000000" text-anchor="start" textLength="40.5" lengthAdjust="spacingAndGlyphs">36.471</text>
<text x="642.9000000000002" y="597" font-family="Liberation Sans" font-size="14" font-weight="normal" fill="#000000" text-anchor="start" textLength="34.3" lengthAdjust="spacingAndGlyphs">38.02</text>
<text x="702.4000000000001" y="597" font-family="Liberation Sans" font-size="14" font-weight="normal" fill="#000000" text-anchor="start" textLength="40.5" lengthAdjust="spacingAndGlyphs">39.569</text>
<text x="599" y="581" font-family="Liberation Sans" font-size="12" font-weight="bold" fill="#808080" text-anchor="start" font-style="italic">Image by al tech page</text>
<g shape-rendering="geometricPrecision">
<polygon points="75,55.5 196.3,59.6 196.3,47 229.5,81.3 196.3,116 196.3,103.5 75,107.8 88.5,81.5" fill="#000" stroke="#000" stroke-width="4" opacity="0.42" transform="translate(1,3)" filter="url(#blur)"/>
<polygon points="75,55.5 196.3,59.6 196.3,47 229.5,81.3 196.3,116 196.3,103.5 75,107.8 88.5,81.5" fill="#ffffff" stroke="#ffffff" stroke-width="4" stroke-linejoin="miter" stroke-miterlimit="3"/>
<polygon points="75,55.5 196.3,59.6 196.3,47 229.5,81.3 196.3,116 196.3,103.5 75,107.8 88.5,81.5" fill="#4f7dca"/>
</g>
<text x="98.5" y="76" font-family="Liberation Sans" font-size="15" font-weight="bold" fill="#ffffff" text-anchor="start" textLength="46" lengthAdjust="spacingAndGlyphs">Control</text>
<text x="150.5" y="76" font-family="Liberation Sans" font-size="15" font-weight="bold" fill="#ffffff" text-anchor="start" textLength="41.5" lengthAdjust="spacingAndGlyphs">Inject.</text>
<text x="101.5" y="95.8" font-family="Liberation Sans" font-size="15" font-weight="bold" fill="#ffffff" text-anchor="start" textLength="46" lengthAdjust="spacingAndGlyphs">Volume</text>
<text x="149.5" y="95.8" font-family="Liberation Sans" font-size="15" font-weight="bold" fill="#ffffff" text-anchor="start" textLength="33.5" lengthAdjust="spacingAndGlyphs">+12%</text>
<rect x="740" y="0" width="2" height="598" fill="#ffffff"/>
<rect x="742" y="0" width="1" height="598" fill="#4a5f88"/>
<rect x="743" y="0" width="2" height="598" fill="#6278a8"/>
<rect x="745" y="0" width="1" height="598" fill="#50648c"/>
</svg>
</body></html>
